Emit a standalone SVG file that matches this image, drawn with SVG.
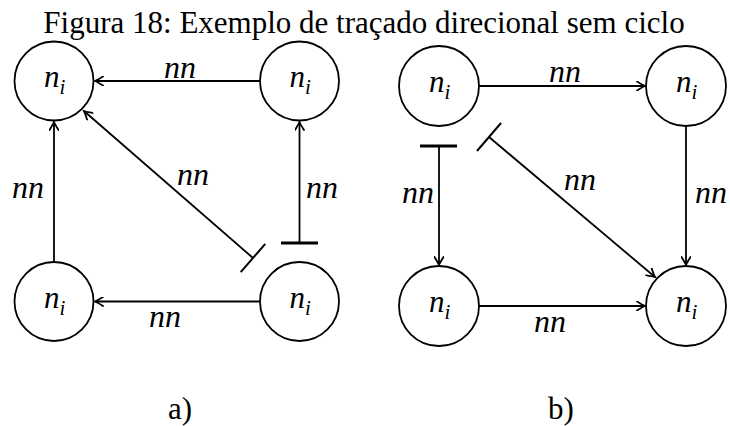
<svg xmlns="http://www.w3.org/2000/svg" width="730" height="426" viewBox="0 0 730 426">
<style>
.node circle{fill:#fff;stroke:#000;stroke-width:1.8}
.lbl{font-family:"Liberation Serif",serif;font-style:italic;font-size:31px;fill:#000}
.sub{font-size:21px}
.edge{fill:none;stroke:#000;stroke-width:1.8}
.bar{fill:none;stroke:#000;stroke-width:3.2}
.thin{fill:none;stroke:#000;stroke-width:2}
.el{font-family:"Liberation Serif",serif;font-style:italic;font-size:32px;fill:#000;text-anchor:middle}
.cap{font-family:"Liberation Serif",serif;font-size:31px;fill:#000;text-anchor:middle}
</style>
<defs>
<marker id="arr" viewBox="-9 -5 11 10" refX="0" refY="0" markerWidth="11" markerHeight="10" markerUnits="userSpaceOnUse" orient="auto">
<path d="M-8,-4.5 Q-2.5,-1 0,0 Q-2.5,1 -8,4.5" fill="none" stroke="#000" stroke-width="1.8" stroke-linecap="round"/>
</marker>
</defs>
<text class="cap" x="364" y="33">Figura 18: Exemplo de traçado direcional sem ciclo</text>

<g id="connectors">
<line class="edge" x1="260" y1="81" x2="95" y2="81" marker-end="url(#arr)"/>
<line class="edge" x1="260" y1="301.5" x2="95" y2="301.5" marker-end="url(#arr)"/>
<line class="edge" x1="54" y1="262" x2="54" y2="122" marker-end="url(#arr)"/>
<line class="edge" x1="299.5" y1="243" x2="299.5" y2="122" marker-end="url(#arr)"/>
<line class="bar" x1="281" y1="243" x2="318" y2="243"/>
<line class="edge" x1="253" y1="258" x2="84" y2="111" marker-end="url(#arr)"/>
<line class="thin" x1="240.7" y1="272.2" x2="265.3" y2="243.8"/>
<line class="edge" x1="479" y1="86" x2="645" y2="86" marker-end="url(#arr)"/>
<line class="edge" x1="479" y1="306" x2="645" y2="306" marker-end="url(#arr)"/>
<line class="edge" x1="686" y1="126" x2="686" y2="265" marker-end="url(#arr)"/>
<line class="edge" x1="439" y1="146" x2="439" y2="265" marker-end="url(#arr)"/>
<line class="bar" x1="420" y1="146" x2="457" y2="146"/>
<line class="edge" x1="489" y1="137" x2="655" y2="277" marker-end="url(#arr)"/>
<line class="thin" x1="477" y1="151" x2="501" y2="123"/>
</g>

<g id="edge-labels">
<text class="el" x="180" y="78">nn</text>
<text class="el" x="193" y="185">nn</text>
<text class="el" x="28" y="198">nn</text>
<text class="el" x="322" y="198">nn</text>
<text class="el" x="165" y="327">nn</text>
<text class="el" x="565" y="82">nn</text>
<text class="el" x="580" y="190">nn</text>
<text class="el" x="418" y="203">nn</text>
<text class="el" x="711" y="203">nn</text>
<text class="el" x="550" y="332">nn</text>
</g>

<g id="a-tl" class="node"><circle cx="54" cy="81" r="39.5"/><text class="lbl" x="44" y="87">n<tspan class="sub" dy="7">i</tspan></text></g>
<g id="a-tr" class="node"><circle cx="299.5" cy="81" r="39.5"/><text class="lbl" x="289.5" y="87">n<tspan class="sub" dy="7">i</tspan></text></g>
<g id="a-bl" class="node"><circle cx="54" cy="301.5" r="39.5"/><text class="lbl" x="44" y="307.5">n<tspan class="sub" dy="7">i</tspan></text></g>
<g id="a-br" class="node"><circle cx="299.5" cy="301.5" r="39.5"/><text class="lbl" x="289.5" y="307.5">n<tspan class="sub" dy="7">i</tspan></text></g>

<g id="b-tl" class="node"><circle cx="439" cy="86" r="40"/><text class="lbl" x="429" y="92">n<tspan class="sub" dy="7">i</tspan></text></g>
<g id="b-tr" class="node"><circle cx="686" cy="86" r="40"/><text class="lbl" x="676" y="92">n<tspan class="sub" dy="7">i</tspan></text></g>
<g id="b-bl" class="node"><circle cx="439" cy="306" r="40"/><text class="lbl" x="429" y="312">n<tspan class="sub" dy="7">i</tspan></text></g>
<g id="b-br" class="node"><circle cx="686" cy="306" r="40"/><text class="lbl" x="676" y="312">n<tspan class="sub" dy="7">i</tspan></text></g>

<text class="cap" x="180" y="419">a)</text>
<text class="cap" x="561" y="419">b)</text>
</svg>
